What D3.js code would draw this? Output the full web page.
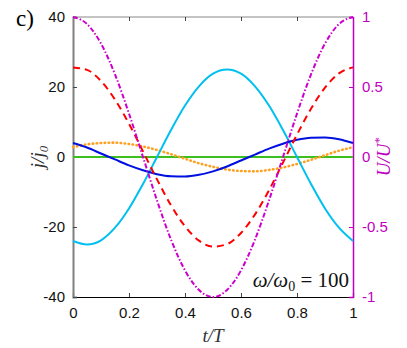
<!DOCTYPE html>
<html>
<head>
<meta charset="utf-8">
<script src="https://cdn.jsdelivr.net/npm/d3@7"></script>
<style>
  body { margin: 0; background: #fff; }
  svg text { font-family: "Liberation Sans", Arial, sans-serif; }
  .ser { font-family: "Liberation Serif", "DejaVu Serif", serif; font-style: italic; }
</style>
</head>
<body>
<svg id="chart"></svg>
<script>
// t/T sample points, every 0.05
tVals = [0, 0.05, 0.1, 0.15, 0.2, 0.25, 0.3, 0.35, 0.4, 0.45, 0.5, 0.55, 0.6, 0.65, 0.7, 0.75, 0.8, 0.85, 0.9, 0.95, 1]

// U/U* (right axis), magenta dash-dot
uVals = [1, 0.95, 0.81, 0.59, 0.31, 0, -0.31, -0.59, -0.81, -0.95, -1, -0.95, -0.81, -0.59, -0.31, 0, 0.31, 0.59, 0.81, 0.95, 1]
// j/j0 curves (left axis)
redVals = [25.6, 24.9, 21.7, 16.4, 9.5, 1.6, -6.4, -13.8, -19.8, -23.9, -25.6, -24.9, -21.7, -16.4, -9.5, -1.6, 6.4, 13.8, 19.8, 23.9, 25.6]
cyanVals = [-24, -25, -23.8, -20.2, -14.7, -7.7, 0, 7.7, 14.7, 20.2, 23.8, 25, 23.8, 20.2, 14.7, 7.7, 0, -7.7, -14.7, -20.2, -24]
blueVals = [4.0, 2.7, 1.0, -0.7, -2.4, -3.8, -4.9, -5.5, -5.6, -5.1, -4.1, -2.7, -1.0, 0.7, 2.4, 3.8, 4.9, 5.5, 5.6, 5.1, 4.0]
orangeVals = [2.8, 3.6, 4.0, 4.1, 3.7, 3.0, 2.0, 0.8, -0.5, -1.8, -2.8, -3.6, -4.0, -4.1, -3.7, -3.0, -2.0, -0.8, 0.5, 1.8, 2.8]
greenVals = [0, 0, 0, 0, 0, 0, 0, 0, 0, 0, 0, 0, 0, 0, 0, 0, 0, 0, 0, 0, 0]

xTicks = [0, 0.2, 0.4, 0.6, 0.8, 1]
xTickLabels = ['0', '0.2', '0.4', '0.6', '0.8', '1']
yTicks = [-40, -20, 0, 20, 40]
uTicks = [-1, -0.5, 0, 0.5, 1]

let width = 407
let height = 348
let margin = { top: 17, right: 54, bottom: 51, left: 73 }
let chartWidth = width - margin.left - margin.right
let chartHeight = height - margin.top - margin.bottom

const magenta = '#c000c0'
const plain = d => String(d)   // hyphen minus like the original

const svg = d3.select('#chart').attr('width', width).attr('height', height)
const g = svg.append('g').attr('transform', `translate(${margin.left},${margin.top})`)

xScale = d3.scaleLinear().domain([0, 1]).range([0, chartWidth])
yScale = d3.scaleLinear().domain([-40, 40]).range([chartHeight, 0])
uScale = d3.scaleLinear().domain([-1, 1]).range([chartHeight, 0])

// top frame line
g.append('line').attr('x1', 0).attr('x2', chartWidth).attr('y1', 0).attr('y2', 0)
  .attr('stroke', '#888').attr('stroke-width', 1)

// axes, ticks pointing inward
xAxis = d3.axisBottom(xScale).tickValues(xTicks).tickSize(-4).tickPadding(10).tickFormat((d, i) => xTickLabels[i])
gx = g.append('g').attr('transform', `translate(0,${chartHeight})`).call(xAxis)
gx.select('.domain').attr('stroke', '#000').attr('stroke-width', 1.2)
gx.selectAll('.tick line').attr('stroke', '#444')
gx.selectAll('.tick text').attr('font-size', 15).attr('fill', '#111')
  .attr('font-family', '"Liberation Sans", Arial, sans-serif')

xTop = d3.axisTop(xScale).tickValues(xTicks).tickSize(-4).tickFormat('')
gt = g.append('g').call(xTop)
gt.select('.domain').remove()
gt.selectAll('.tick line').attr('stroke', '#444')

yAxis = d3.axisLeft(yScale).tickValues(yTicks).tickSize(-4).tickPadding(8).tickFormat(plain)
gy = g.append('g').call(yAxis)
gy.select('.domain').attr('stroke', '#808080').attr('stroke-width', 2)
gy.selectAll('.tick line').attr('stroke', '#444')
gy.selectAll('.tick text').attr('font-size', 15).attr('fill', '#111')
  .attr('font-family', '"Liberation Sans", Arial, sans-serif')

uAxis = d3.axisRight(uScale).tickValues(uTicks).tickSize(-4).tickPadding(9).tickFormat(plain)
gu = g.append('g').attr('transform', `translate(${chartWidth},0)`).call(uAxis)
gu.select('.domain').attr('stroke', magenta).attr('stroke-width', 1.5)
gu.selectAll('.tick line').attr('stroke', magenta)
gu.selectAll('.tick text').attr('font-size', 15).attr('fill', magenta)
  .attr('font-family', '"Liberation Sans", Arial, sans-serif')

// curves
lineJ = d3.line().x((d, i) => xScale(tVals[i])).y(d => yScale(d)).curve(d3.curveMonotoneX)
lineU = d3.line().x((d, i) => xScale(tVals[i])).y(d => uScale(d)).curve(d3.curveMonotoneX)

series = [
  { vals: greenVals, color: '#3cc020', dash: null, line: lineJ, w: 2 },
  { vals: orangeVals, color: '#ffa020', dash: '0.5,3.5', line: lineJ, cap: 'round', w: 2.6 },
  { vals: cyanVals, color: '#00c0f0', dash: null, line: lineJ, w: 2 },
  { vals: blueVals, color: '#0010e0', dash: null, line: lineJ, w: 2 },
  { vals: redVals, color: '#ff0000', dash: '7,5', line: lineJ, w: 2 },
  { vals: uVals, color: '#cc00cc', dash: '5,2,1.5,2', line: lineU, w: 2 }
]

g.selectAll('.curve').data(series).enter()
  .append('path')
  .attr('class', 'curve')
  .attr('d', d => d.line(d.vals))
  .attr('fill', 'none')
  .attr('stroke', d => d.color)
  .attr('stroke-width', d => d.w)
  .attr('stroke-linecap', d => d.cap || 'butt')
  .attr('stroke-dasharray', d => d.dash)

// labels
svg.append('text').attr('x', 16).attr('y', 26).attr('font-size', 23)
  .style('font-family', '"Liberation Serif", serif').text('c)')

svg.append('text').attr('class', 'ser').attr('transform', `translate(44,157) rotate(-90)`)
  .attr('text-anchor', 'middle').attr('font-size', 19).attr('fill', '#333')
  .html('j/j<tspan font-size="13" dy="4">0</tspan>')

svg.append('text').attr('class', 'ser').attr('transform', `translate(390,157) rotate(-90)`)
  .attr('text-anchor', 'middle').attr('font-size', 19).attr('fill', magenta)
  .html('U/U<tspan font-size="12" dy="-7">*</tspan>')

svg.append('text').attr('class', 'ser').attr('x', margin.left + chartWidth / 2).attr('y', 342)
  .attr('text-anchor', 'middle').attr('font-size', 19).attr('fill', '#333').text('t/T')

ann = svg.append('text').attr('x', 349).attr('y', 287).attr('text-anchor', 'end')
  .attr('font-size', 21).attr('fill', '#111').style('font-family', '"Liberation Serif", serif')
ann.append('tspan').style('font-style', 'italic').text('ω/ω')
ann.append('tspan').attr('font-size', 14).attr('dy', 4).text('0')
ann.append('tspan').attr('dy', -4).text(' = 100')
</script>
</body>
</html>
